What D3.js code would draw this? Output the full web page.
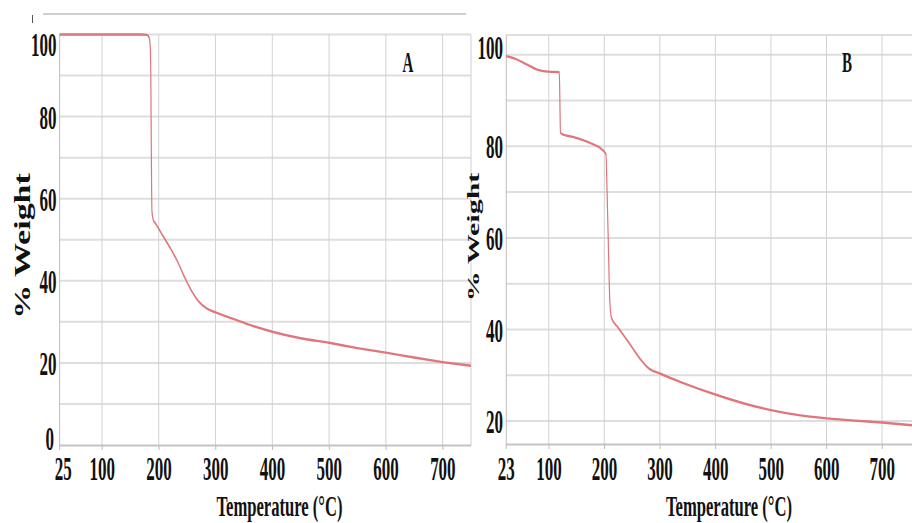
<!DOCTYPE html>
<html>
<head>
<meta charset="utf-8">
<script src="https://cdn.jsdelivr.net/npm/d3@7"></script>
<style>
  html, body { margin: 0; padding: 0; background: #fff; }
  svg { display: block; }
  text { font-family: "Liberation Serif", "Times New Roman", serif; font-weight: bold; fill: #111; }
</style>
</head>
<body>
<div id="chart"></div>
<script>
// Thermogravimetric curves: % weight vs temperature for two samples (A, B)
const tempA   = [25, 100, 170, 179, 183, 185, 186, 187, 188, 190, 195, 205, 220, 232, 245, 258, 270, 285, 300, 330, 366, 400, 450, 500, 550, 600, 650, 700, 750];
const weightA = [100, 100, 100, 99.9, 99.3, 97, 90, 70, 57, 55, 53.8, 51.5, 48, 45, 41, 37.5, 35, 33.2, 32.3, 30.8, 29, 27.6, 26, 24.9, 23.6, 22.5, 21.3, 20.2, 19.3];

const tempB   = [23, 40, 60, 80, 100, 119, 120, 121, 125, 145, 175, 195, 203, 205, 207, 210, 213, 225, 245, 265, 280, 300, 340, 400, 450, 500, 550, 600, 650, 700, 754];
const weightB = [99.7, 99.1, 97.9, 96.7, 96.3, 96.2, 90, 83, 82.6, 82, 80.7, 79.4, 78.3, 70, 60, 46, 42.5, 40.4, 37, 33.5, 31.5, 30.4, 28.4, 25.8, 23.9, 22.4, 21.3, 20.6, 20.1, 19.7, 19.1];

const xTicksA = [25, 100, 200, 300, 400, 500, 600, 700];
const xTicksB = [23, 100, 200, 300, 400, 500, 600, 700];
const yTicksA = [0, 20, 40, 60, 80, 100];
const yTicksB = [20, 40, 60, 80, 100];
const xTitle = "Temperature (°C)";
const yTitle = "% Weight";

// The figure is drawn horizontally condensed: the view box is SX times wider than the page.
const W = 912, H = 523, SX = 2;
const X = px => px * SX;

const svg = d3.select("#chart").append("svg")
  .attr("width", W).attr("height", H)
  .attr("viewBox", `0 0 ${W * SX} ${H}`)
  .attr("preserveAspectRatio", "none");

const lineColor = "#e0757b";
const hGrid = "#dedede";
const vGrid = "#d2d2d2";

function panel(cfg) {
  const g = svg.append("g");
  const x = d3.scaleLinear().domain(cfg.xDomain).range([X(cfg.left), X(cfg.right)]);
  const y = d3.scaleLinear().domain(cfg.yDomain).range([cfg.bottom, cfg.top]);

  // horizontal grid (major + minor every 10)
  g.append("g").selectAll("line").data(cfg.hLines).join("line")
    .attr("x1", x.range()[0]).attr("x2", x.range()[1])
    .attr("y1", d => y(d)).attr("y2", d => y(d))
    .attr("stroke", hGrid).attr("stroke-width", 2);

  // vertical grid
  g.append("g").selectAll("line").data(cfg.vLines).join("line")
    .attr("x1", d => x(d)).attr("x2", d => x(d))
    .attr("y1", cfg.top).attr("y2", cfg.bottom)
    .attr("stroke", vGrid).attr("stroke-width", 2);

  // left axis with labels (edge labels nudged to stay clear of neighbours)
  const ya = d3.axisLeft(y).tickValues(cfg.yTicks).tickSize(0).tickPadding(X(3));
  const yg = g.append("g").attr("transform", `translate(${x.range()[0]},0)`).call(ya);
  yg.select(".domain").attr("stroke", "#bdbdbd").attr("stroke-width", 2);
  yg.selectAll("text").attr("font-size", 34).attr("font-family", null)
    .attr("dy", d => (cfg.yShift[d] || 0) + 11.5)
    .attr("dx", d => X((cfg.yShiftX || {})[d] || 0));

  // bottom axis with labels
  const xa = d3.axisBottom(x).tickValues(cfg.xTicks).tickSize(5).tickSizeOuter(0);
  const xg = g.append("g").attr("transform", `translate(0,${cfg.bottom})`).call(xa);
  xg.select(".domain").attr("stroke", "#c4c4c4").attr("stroke-width", 2);
  xg.selectAll(".tick line").attr("stroke", "#bbb").attr("stroke-width", 2);
  xg.selectAll("text").attr("font-size", 34).attr("font-family", null)
    .attr("y", 480 - cfg.bottom).attr("dy", 0)
    .attr("dx", d => X((cfg.xShift || {})[d] || 0));

  // curve
  const line = d3.line().x(d => x(d[0])).y(d => y(d[1])).curve(d3.curveMonotoneX);
  g.append("path").datum(d3.zip(cfg.temp, cfg.weight))
    .attr("d", line).attr("fill", "none")
    .attr("stroke", lineColor).attr("stroke-width", 2.4).attr("stroke-linejoin", "round");

  // titles
  g.append("text").attr("x", X(cfg.xTitleX)).attr("y", 516)
    .attr("text-anchor", "middle").attr("font-size", 30)
    .attr("textLength", X(126)).attr("lengthAdjust", "spacingAndGlyphs")
    .text(xTitle);
  g.append("text")
    .attr("transform", `translate(${X(cfg.yTitleX)},${cfg.yTitleY}) rotate(-90) scale(1,${cfg.yTitleStretch})`)
    .attr("text-anchor", "middle").attr("dy", "0.3em")
    .attr("font-size", cfg.yTitleSize).text(yTitle);
  g.append("text").attr("x", X(cfg.tagX)).attr("y", 72)
    .attr("text-anchor", "middle").attr("font-size", 30).text(cfg.tag);

  return { x, y };
}

// thin rule across the top of the left panel
svg.append("line").attr("x1", X(43)).attr("x2", X(466)).attr("y1", 14).attr("y2", 14)
  .attr("stroke", "#cfcfcf").attr("stroke-width", 2);
svg.append("line").attr("x1", X(32.5)).attr("x2", X(32.5)).attr("y1", 15).attr("y2", 23)
  .attr("stroke", "#555").attr("stroke-width", 2);

panel({
  left: 59.4, right: 471, top: 34.5, bottom: 445,
  xDomain: [25, 750], yDomain: [0, 100],
  hLines: d3.range(10, 101, 10), vLines: [100, 200, 300, 400, 500, 600, 700, 750],
  xTicks: xTicksA, yTicks: yTicksA,
  yShift: { 100: 9, 0: -7 }, yShiftX: { 0: -2.5 }, xShift: { 25: 3.5 },
  temp: tempA, weight: weightA,
  xTitleX: 279.5, yTitleX: 23, yTitleY: 246, yTitleSize: 34, yTitleStretch: 1.3,
  tag: "A", tagX: 408
});

panel({
  left: 506, right: 912, top: 35, bottom: 444,
  xDomain: [23, 754], yDomain: [15, 104.3],
  hLines: d3.range(20, 101, 10).concat([104.3]), vLines: [100, 200, 300, 400, 500, 600, 700],
  xTicks: xTicksB, yTicks: yTicksB, yShift: { 100: -7.5 },
  temp: tempB, weight: weightB,
  xTitleX: 729, yTitleX: 474, yTitleY: 237, yTitleSize: 30, yTitleStretch: 1.15,
  tag: "B", tagX: 847
});
</script>
</body>
</html>
